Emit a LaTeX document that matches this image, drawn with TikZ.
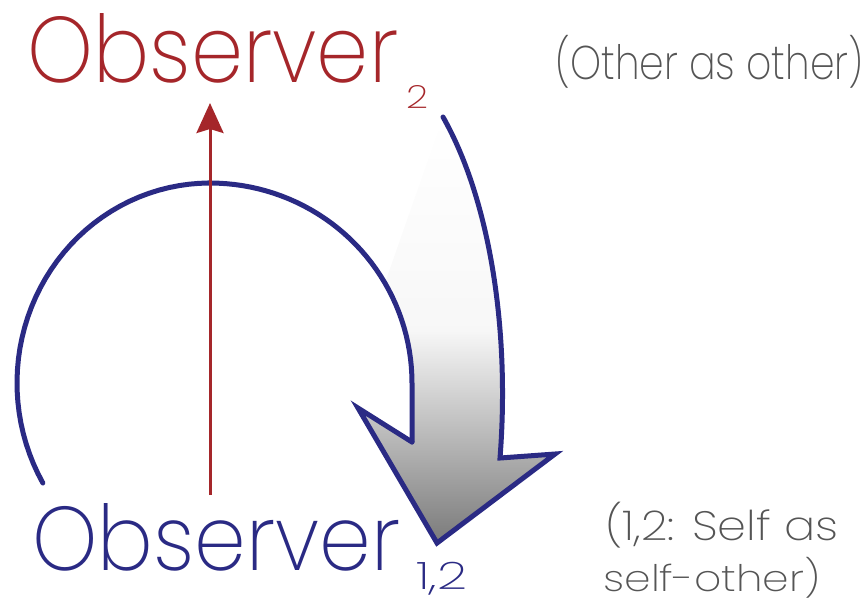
\documentclass[tikz,border=0pt]{standalone}
\usepackage{fontspec}
\usepackage{graphicx}
\usepackage{xcolor}
\usetikzlibrary{arrows.meta}
\newfontfamily\obsfont{Poppins}[UprightFont={* ExtraLight}]
\definecolor{obsred}{RGB}{165,38,42}
\definecolor{obsblue}{RGB}{42,42,132}
\definecolor{notegray}{RGB}{85,85,85}

\begin{document}
\begin{tikzpicture}[x=0.02cm,y=-0.02cm,
    obsline/.style={draw=obsblue, line width=0.1cm, line join=miter},
    redarrow/.style={draw=obsred, line width=0.06cm,
        -{Stealth[length=0.6cm,width=0.54cm,inset=0.08cm]}},
    txt/.style={inner sep=0pt, anchor=north west}]
\useasboundingbox (0,0) rectangle (868,600);
\def\cx{210}
\def\cy{383}
% labels
\node[txt, text=obsred] (obs2) at (27,13)
    {\resizebox{7.42cm}{1.38cm}{\obsfont Observer}};
\node[txt, text=obsred] (sub2) at (406,85)
    {\resizebox{0.44cm}{0.46cm}{\obsfont 2}};
\node[txt, text=obsblue] (obs12) at (32,503)
    {\resizebox{7.36cm}{1.34cm}{\obsfont Observer}};
\node[txt, text=obsblue] (sub12) at (416,562)
    {\resizebox*{1.02cm}{0.66cm}{\obsfont 1,2}};
\node[txt, text=notegray] (other) at (555,35)
    {\resizebox*{6.16cm}{1.06cm}{\obsfont (Other as other)}};
\node[txt, text=notegray] (selfa) at (605,502)
    {\resizebox*{4.66cm}{0.92cm}{\obsfont (1,2: Self as}};
\node[txt, text=notegray] (selfb) at (603,557)
    {\resizebox*{4.34cm}{0.82cm}{\obsfont self-other)}};
%
\coordinate (redbot) at (\cx,495);
\coordinate (redtop) at (\cx,103);
% shaded body of the turning arrow
\shade[top color=white, bottom color=black!52, middle color=black!3]
(443,117) .. controls (490,200) and (510,330) .. (500,458)
-- (555,454) -- (437,543) -- (358,408) -- (412,442) -- (412,\cy)
-- plot[domain=360:330, samples=20] ({\cx+202*cos(\x)},{\cy+200*sin(\x)})
-- cycle;
% loop line
\draw[obsline, line cap=round]
plot[domain=150:270, samples=40] ({\cx+193*cos(\x)},{\cy+200*sin(\x)})
-- plot[domain=270:360, samples=40] ({\cx+202*cos(\x)},{\cy+200*sin(\x)})
-- (412,442);
% outer edge and head
\draw[obsline, line cap=round]
(443,117) .. controls (490,200) and (510,330) .. (500,458)
-- (555,454) -- (437,543) -- (358,408) -- (412,442);
%
\draw[redarrow] (redbot) -- (redtop);
\end{tikzpicture}
\end{document}
